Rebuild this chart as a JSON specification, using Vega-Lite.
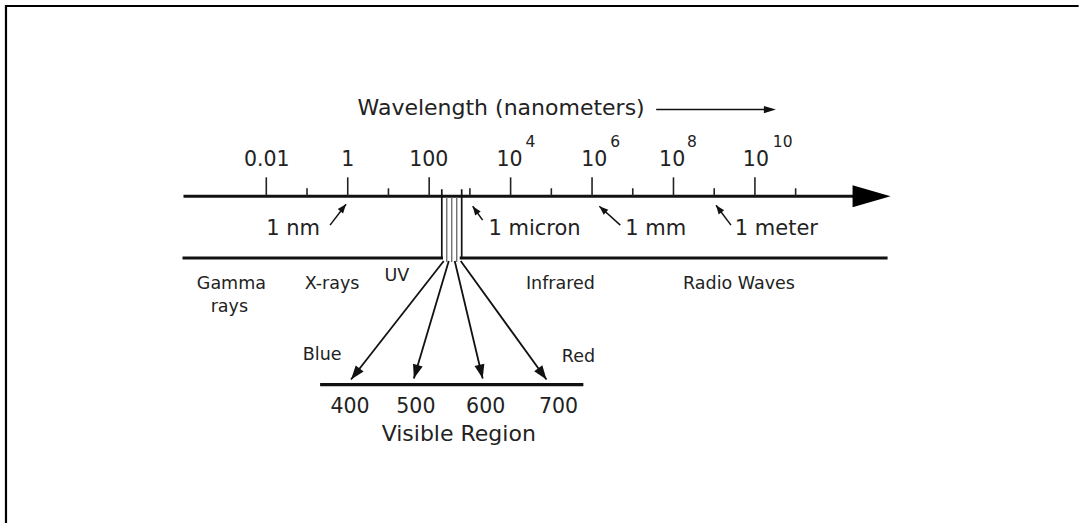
{
  "$schema": "https://vega.github.io/schema/vega-lite/v6.json",
  "width": 1080,
  "height": 525,
  "padding": 0,
  "autosize": {"type": "fit", "contains": "padding"},
  "background": "white",
  "config": {"view": {"stroke": null}},
  "datasets": {
    "lines": [
      {"part": "frame", "x": -8.418, "y": 6, "x2": 17.95, "y2": 6},
      {"part": "frame", "x": -8.393, "y": 5, "x2": -8.393, "y2": 525},
      {"part": "bar", "x": -4.034, "y": 197, "x2": 12.571, "y2": 197},
      {"part": "bar", "x": -4.058, "y": 259, "x2": 2.339, "y2": 259},
      {"part": "bar", "x": 2.75, "y": 259, "x2": 13.258, "y2": 259},
      {"part": "bar", "x": -0.679, "y": 386, "x2": 5.787, "y2": 386},
      {"part": "tick", "x": -2, "y": 178, "x2": -2, "y2": 197},
      {"part": "tick", "x": 0, "y": 178, "x2": 0, "y2": 197},
      {"part": "tick", "x": 2, "y": 178, "x2": 2, "y2": 197},
      {"part": "tick", "x": 4, "y": 178, "x2": 4, "y2": 197},
      {"part": "tick", "x": 6, "y": 178, "x2": 6, "y2": 197},
      {"part": "tick", "x": 8, "y": 178, "x2": 8, "y2": 197},
      {"part": "tick", "x": 10, "y": 178, "x2": 10, "y2": 197},
      {"part": "tick", "x": -1, "y": 189, "x2": -1, "y2": 197},
      {"part": "tick", "x": 1, "y": 189, "x2": 1, "y2": 197},
      {"part": "tick", "x": 3, "y": 189, "x2": 3, "y2": 197},
      {"part": "tick", "x": 5, "y": 189, "x2": 5, "y2": 197},
      {"part": "tick", "x": 7, "y": 189, "x2": 7, "y2": 197},
      {"part": "tick", "x": 9, "y": 189, "x2": 9, "y2": 197},
      {"part": "tick", "x": 11, "y": 189, "x2": 11, "y2": 197},
      {"part": "band", "x": 2.31, "y": 190, "x2": 2.31, "y2": 260},
      {"part": "band", "x": 2.799, "y": 190, "x2": 2.799, "y2": 260},
      {"part": "bandInner", "x": 2.432, "y": 198, "x2": 2.432, "y2": 263},
      {"part": "bandInner", "x": 2.554, "y": 198, "x2": 2.554, "y2": 263},
      {"part": "bandInner", "x": 2.677, "y": 198, "x2": 2.677, "y2": 263},
      {"part": "arrow", "x": 2.358, "y": 262, "x2": 0.081, "y2": 381},
      {"part": "arrow", "x": 2.481, "y": 262, "x2": 1.624, "y2": 380},
      {"part": "arrow", "x": 2.628, "y": 262, "x2": 3.314, "y2": 380},
      {"part": "arrow", "x": 2.775, "y": 262, "x2": 4.881, "y2": 381},
      {"part": "pointer", "x": -0.434, "y": 226, "x2": -0.042, "y2": 205},
      {"part": "pointer", "x": 3.313, "y": 221, "x2": 3.069, "y2": 207},
      {"part": "pointer", "x": 6.694, "y": 226, "x2": 6.179, "y2": 207},
      {"part": "pointer", "x": 9.412, "y": 226, "x2": 9.045, "y2": 206},
      {"part": "pointer", "x": 7.575, "y": 110, "x2": 10.4, "y2": 110}
    ],
    "heads": [
      {"id": "main", "x": 13.331, "y": 197},
      {"id": "wave", "x": 10.515, "y": 110},
      {"id": "nm", "x": -0.042, "y": 205},
      {"id": "micron", "x": 3.069, "y": 207},
      {"id": "mm", "x": 6.179, "y": 207},
      {"id": "meter", "x": 9.045, "y": 206},
      {"id": "v1", "x": 0.081, "y": 381},
      {"id": "v2", "x": 1.624, "y": 380},
      {"id": "v3", "x": 3.314, "y": 380},
      {"id": "v4", "x": 4.881, "y": 381}
    ],
    "labels": [
      {"grp": "big", "text": "Wavelength (nanometers)", "x": 3.767, "y": 115},
      {"grp": "big", "text": "Visible Region", "x": 2.726, "y": 443},
      {"grp": "tick", "text": "0.01", "x": -1.989, "y": 167},
      {"grp": "tick", "text": "1", "x": 0, "y": 167},
      {"grp": "tick", "text": "100", "x": 1.991, "y": 167},
      {"grp": "tick", "text": "10", "x": 3.975, "y": 167},
      {"grp": "tick", "text": "10", "x": 6.057, "y": 167},
      {"grp": "tick", "text": "10", "x": 7.967, "y": 167},
      {"grp": "tick", "text": "10", "x": 10.024, "y": 167},
      {"grp": "sup", "text": "4", "x": 4.367, "y": 148},
      {"grp": "sup", "text": "6", "x": 6.449, "y": 148},
      {"grp": "sup", "text": "8", "x": 8.334, "y": 148},
      {"grp": "sup", "text": "10", "x": 10.441, "y": 148},
      {"grp": "note", "text": "1 nm", "x": -1.34, "y": 236},
      {"grp": "note", "text": "1 micron", "x": 4.587, "y": 236},
      {"grp": "note", "text": "1 mm", "x": 7.563, "y": 236},
      {"grp": "note", "text": "1 meter", "x": 10.527, "y": 236},
      {"grp": "region", "text": "Gamma", "x": -2.858, "y": 290},
      {"grp": "region", "text": "rays", "x": -2.907, "y": 313},
      {"grp": "region", "text": "X-rays", "x": -0.385, "y": 290},
      {"grp": "region", "text": "UV", "x": 1.207, "y": 282},
      {"grp": "region", "text": "Infrared", "x": 5.224, "y": 290},
      {"grp": "region", "text": "Radio Waves", "x": 9.608, "y": 290},
      {"grp": "region", "text": "Blue", "x": -0.629, "y": 361},
      {"grp": "region", "text": "Red", "x": 5.665, "y": 363},
      {"grp": "vis", "text": "400", "x": 0.056, "y": 415},
      {"grp": "vis", "text": "500", "x": 1.673, "y": 415},
      {"grp": "vis", "text": "600", "x": 3.387, "y": 415},
      {"grp": "vis", "text": "700", "x": 5.175, "y": 415}
    ]
  },
  "encoding": {
    "x": {"field": "x", "type": "quantitative", "scale": {"domain": [-8.54, 17.91], "nice": false, "zero": false}, "axis": null},
    "y": {"field": "y", "type": "quantitative", "scale": {"domain": [0, 525], "reverse": true, "nice": false, "zero": false}, "axis": null}
  },
  "layer": [
    {"data": {"name": "lines"}, "transform": [{"filter": "datum.part == 'frame'"}], "mark": {"type": "rule", "color": "#000", "strokeWidth": 2.2},
     "encoding": {"x2": {"field": "x2"}, "y2": {"field": "y2"}}},
    {"data": {"name": "lines"}, "transform": [{"filter": "datum.part == 'bar'"}], "mark": {"type": "rule", "color": "#111", "strokeWidth": 3.2},
     "encoding": {"x2": {"field": "x2"}, "y2": {"field": "y2"}}},
    {"data": {"name": "lines"}, "transform": [{"filter": "datum.part == 'tick'"}], "mark": {"type": "rule", "color": "#222", "strokeWidth": 1.6},
     "encoding": {"x2": {"field": "x2"}, "y2": {"field": "y2"}}},
    {"data": {"name": "lines"}, "transform": [{"filter": "datum.part == 'band'"}], "mark": {"type": "rule", "color": "#111", "strokeWidth": 1.7},
     "encoding": {"x2": {"field": "x2"}, "y2": {"field": "y2"}}},
    {"data": {"name": "lines"}, "transform": [{"filter": "datum.part == 'bandInner'"}], "mark": {"type": "rule", "color": "#666", "strokeWidth": 1.3},
     "encoding": {"x2": {"field": "x2"}, "y2": {"field": "y2"}}},
    {"data": {"name": "lines"}, "transform": [{"filter": "datum.part == 'arrow'"}], "mark": {"type": "rule", "color": "#111", "strokeWidth": 1.8},
     "encoding": {"x2": {"field": "x2"}, "y2": {"field": "y2"}}},
    {"data": {"name": "lines"}, "transform": [{"filter": "datum.part == 'pointer'"}], "mark": {"type": "rule", "color": "#111", "strokeWidth": 1.5},
     "encoding": {"x2": {"field": "x2"}, "y2": {"field": "y2"}}},
    {"data": {"name": "heads"}, "transform": [{"filter": "datum.id == 'main'"}], "mark": {"type": "point", "shape": "M0,0L-0.29,1L0.29,1Z", "size": 5776, "angle": 90, "filled": true, "color": "#000", "opacity": 1, "strokeWidth": 0}},
    {"data": {"name": "heads"}, "transform": [{"filter": "datum.id == 'wave'"}], "mark": {"type": "point", "shape": "M0,0L-0.3,1L0.3,1Z", "size": 576, "angle": 90, "filled": true, "color": "#111", "opacity": 1, "strokeWidth": 0}},
    {"data": {"name": "heads"}, "transform": [{"filter": "datum.id == 'nm'"}], "mark": {"type": "point", "shape": "M0,0L-0.38,1L0.38,1Z", "size": 324, "angle": 38.7, "filled": true, "color": "#111", "opacity": 1, "strokeWidth": 0}},
    {"data": {"name": "heads"}, "transform": [{"filter": "datum.id == 'micron'"}], "mark": {"type": "point", "shape": "M0,0L-0.38,1L0.38,1Z", "size": 324, "angle": -35.5, "filled": true, "color": "#111", "opacity": 1, "strokeWidth": 0}},
    {"data": {"name": "heads"}, "transform": [{"filter": "datum.id == 'mm'"}], "mark": {"type": "point", "shape": "M0,0L-0.38,1L0.38,1Z", "size": 324, "angle": -47.9, "filled": true, "color": "#111", "opacity": 1, "strokeWidth": 0}},
    {"data": {"name": "heads"}, "transform": [{"filter": "datum.id == 'meter'"}], "mark": {"type": "point", "shape": "M0,0L-0.38,1L0.38,1Z", "size": 324, "angle": -36.9, "filled": true, "color": "#111", "opacity": 1, "strokeWidth": 0}},
    {"data": {"name": "heads"}, "transform": [{"filter": "datum.id == 'v1'"}], "mark": {"type": "point", "shape": "M0,0L-0.36,1L0.36,1Z", "size": 784, "angle": -142, "filled": true, "color": "#111", "opacity": 1, "strokeWidth": 0}},
    {"data": {"name": "heads"}, "transform": [{"filter": "datum.id == 'v2'"}], "mark": {"type": "point", "shape": "M0,0L-0.36,1L0.36,1Z", "size": 784, "angle": -163.5, "filled": true, "color": "#111", "opacity": 1, "strokeWidth": 0}},
    {"data": {"name": "heads"}, "transform": [{"filter": "datum.id == 'v3'"}], "mark": {"type": "point", "shape": "M0,0L-0.36,1L0.36,1Z", "size": 784, "angle": 166.7, "filled": true, "color": "#111", "opacity": 1, "strokeWidth": 0}},
    {"data": {"name": "heads"}, "transform": [{"filter": "datum.id == 'v4'"}], "mark": {"type": "point", "shape": "M0,0L-0.36,1L0.36,1Z", "size": 784, "angle": 144.1, "filled": true, "color": "#111", "opacity": 1, "strokeWidth": 0}},
    {"data": {"name": "labels"}, "transform": [{"filter": "datum.grp == 'big'"}], "mark": {"type": "text", "font": "DejaVu Sans", "fontSize": 22, "color": "#222", "align": "center", "baseline": "alphabetic"},
     "encoding": {"text": {"field": "text"}}},
    {"data": {"name": "labels"}, "transform": [{"filter": "datum.grp == 'tick'"}], "mark": {"type": "text", "font": "DejaVu Sans", "fontSize": 20.5, "color": "#222", "align": "center", "baseline": "alphabetic"},
     "encoding": {"text": {"field": "text"}}},
    {"data": {"name": "labels"}, "transform": [{"filter": "datum.grp == 'sup'"}], "mark": {"type": "text", "font": "DejaVu Sans", "fontSize": 15.5, "color": "#222", "align": "left", "baseline": "alphabetic"},
     "encoding": {"text": {"field": "text"}}},
    {"data": {"name": "labels"}, "transform": [{"filter": "datum.grp == 'note'"}], "mark": {"type": "text", "font": "DejaVu Sans", "fontSize": 21, "color": "#222", "align": "center", "baseline": "alphabetic"},
     "encoding": {"text": {"field": "text"}}},
    {"data": {"name": "labels"}, "transform": [{"filter": "datum.grp == 'region'"}], "mark": {"type": "text", "font": "DejaVu Sans", "fontSize": 17.5, "color": "#222", "align": "center", "baseline": "alphabetic"},
     "encoding": {"text": {"field": "text"}}},
    {"data": {"name": "labels"}, "transform": [{"filter": "datum.grp == 'vis'"}], "mark": {"type": "text", "font": "DejaVu Sans", "fontSize": 20.5, "color": "#222", "align": "center", "baseline": "alphabetic"},
     "encoding": {"text": {"field": "text"}}}
  ]
}
